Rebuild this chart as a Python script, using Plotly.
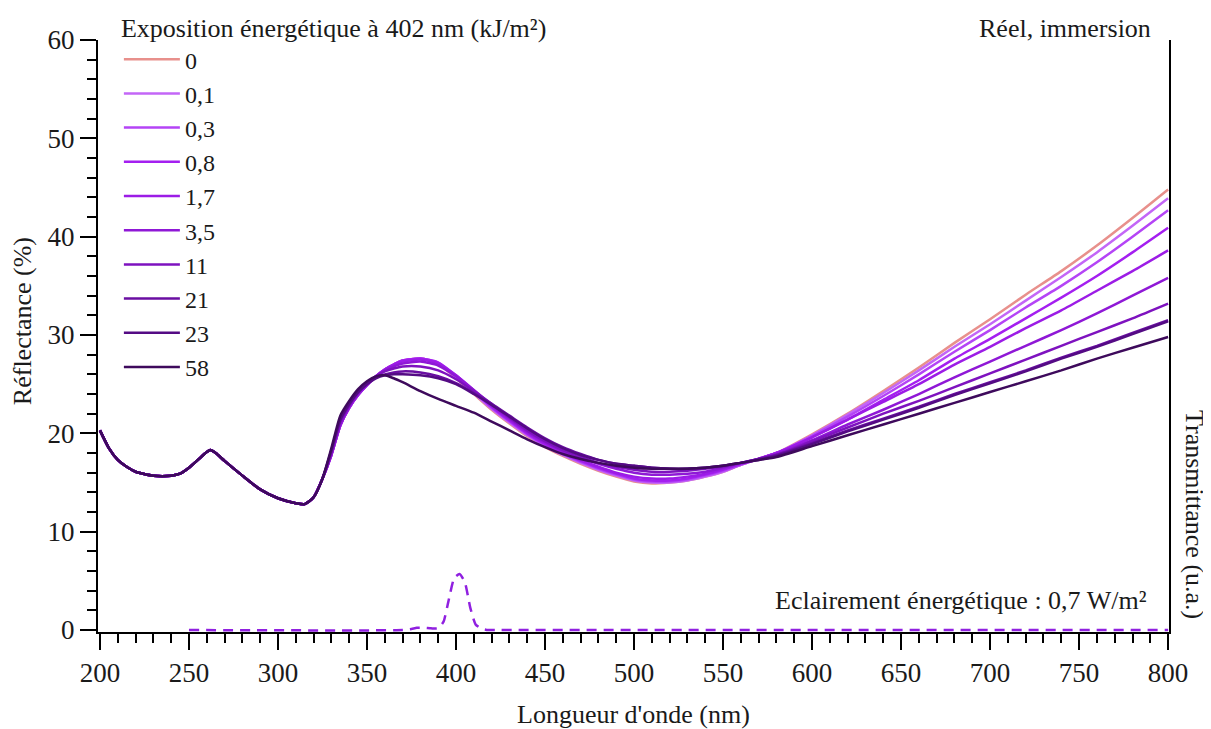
import plotly.graph_objects as go

# ---------------- data ----------------
# shared UV part (all exposures coincide)
wl_uv = [200, 205, 210, 215, 220, 230, 240, 245, 250, 255, 260, 262, 265, 270, 280, 290, 300, 310, 315, 320, 325]
refl_uv = [20.3, 18.5, 17.3, 16.6, 16.1, 15.7, 15.7, 15.9, 16.5, 17.3, 18.1, 18.3, 18.0, 17.2, 15.7, 14.3, 13.4, 12.9, 12.8, 13.5, 15.4]

wl_vis = [330, 335, 340, 345, 350, 355, 360, 365, 370, 380, 390, 400, 410, 420, 430, 440, 450, 460, 470, 480,
          490, 500, 510, 520, 530, 540, 550, 560, 570, 580, 600, 620, 640, 660, 680, 700, 720, 740, 760, 780, 800]

exposures = ["0", "0,1", "0,3", "0,8", "1,7", "3,5", "11", "21", "23", "58"]

refl_0 = [17.8, 20.8, 22.6, 23.9, 24.9, 25.8, 26.5, 27.0, 27.4, 27.6, 27.1, 25.6, 24.0, 22.4, 21.0, 19.7, 18.6, 17.7, 16.9, 16.2,
          15.6, 15.1, 14.9, 15.0, 15.2, 15.6, 16.1, 16.8, 17.4, 18.0, 19.9, 22.0, 24.3, 26.7, 29.2, 31.6, 34.1, 36.5, 39.1, 41.9, 44.8]
refl_01 = [17.8, 20.8, 22.6, 23.9, 24.9, 25.8, 26.5, 27.0, 27.4, 27.6, 27.1, 25.7, 24.1, 22.5, 21.1, 19.8, 18.7, 17.8, 17.0, 16.3,
           15.7, 15.2, 15.0, 15.0, 15.2, 15.6, 16.1, 16.8, 17.4, 18.0, 19.8, 21.9, 24.1, 26.4, 28.8, 31.1, 33.5, 35.9, 38.4, 41.1, 43.9]
refl_03 = [17.8, 20.8, 22.6, 23.9, 24.9, 25.8, 26.5, 27.0, 27.4, 27.6, 27.2, 25.8, 24.2, 22.6, 21.2, 19.9, 18.8, 17.9, 17.1, 16.4,
           15.8, 15.3, 15.1, 15.1, 15.3, 15.7, 16.2, 16.8, 17.4, 18.0, 19.75, 21.7, 23.8, 26.0, 28.3, 30.5, 32.8, 35.0, 37.4, 40.0, 42.7]
refl_08 = [17.8, 20.8, 22.6, 23.9, 24.9, 25.8, 26.5, 27.0, 27.4, 27.6, 27.2, 25.9, 24.3, 22.7, 21.3, 20.0, 18.9, 18.0, 17.2, 16.5,
           15.9, 15.4, 15.2, 15.2, 15.4, 15.8, 16.3, 16.9, 17.4, 18.0, 19.6, 21.4, 23.4, 25.4, 27.6, 29.6, 31.7, 33.8, 36.0, 38.4, 40.9]
refl_17 = [17.8, 20.8, 22.6, 23.9, 24.9, 25.8, 26.5, 27.0, 27.3, 27.5, 27.1, 25.9, 24.4, 22.8, 21.4, 20.1, 19.0, 18.1, 17.3, 16.6,
           16.0, 15.6, 15.4, 15.4, 15.6, 15.9, 16.4, 16.9, 17.4, 18.0, 19.6, 21.4, 23.2, 25.0, 27.0, 28.8, 30.7, 32.5, 34.5, 36.5, 38.6]
refl_35 = [17.9, 20.9, 22.7, 24.0, 25.0, 25.8, 26.4, 26.8, 27.1, 27.3, 26.9, 25.8, 24.4, 22.9, 21.5, 20.2, 19.1, 18.2, 17.5, 16.9,
           16.4, 16.0, 15.8, 15.8, 15.9, 16.1, 16.5, 17.0, 17.4, 17.9, 19.3, 20.9, 22.4, 24.0, 25.7, 27.3, 28.9, 30.5, 32.2, 34.0, 35.8]
refl_11 = [18.0, 21.1, 22.8, 24.1, 25.1, 25.8, 26.3, 26.6, 26.8, 26.8, 26.4, 25.5, 24.3, 23.0, 21.6, 20.3, 19.2, 18.3, 17.6, 17.0,
           16.6, 16.3, 16.1, 16.1, 16.2, 16.4, 16.6, 17.0, 17.4, 17.8, 19.2, 20.6, 22.0, 23.3, 24.7, 26.1, 27.5, 28.9, 30.3, 31.7, 33.2]
refl_21 = [18.2, 21.3, 22.9, 24.2, 25.1, 25.7, 26.0, 26.2, 26.3, 26.2, 25.8, 25.1, 24.1, 23.0, 21.8, 20.6, 19.5, 18.6, 17.9, 17.3,
           16.9, 16.7, 16.5, 16.4, 16.4, 16.5, 16.7, 17.0, 17.4, 17.8, 19.0, 20.3, 21.5, 22.7, 24.0, 25.2, 26.4, 27.7, 28.9, 30.2, 31.5]
refl_23 = [18.3, 21.4, 23.0, 24.2, 25.0, 25.6, 25.9, 26.0, 26.0, 25.9, 25.6, 25.0, 24.0, 22.9, 21.7, 20.5, 19.4, 18.5, 17.8, 17.3,
           16.9, 16.7, 16.5, 16.4, 16.4, 16.5, 16.7, 17.0, 17.3, 17.7, 18.9, 20.2, 21.4, 22.6, 23.9, 25.1, 26.3, 27.6, 28.8, 30.1, 31.4]
refl_58 = [18.5, 21.8, 23.3, 24.5, 25.3, 25.8, 25.9, 25.6, 25.2, 24.3, 23.5, 22.8, 22.1, 21.2, 20.3, 19.4, 18.6, 17.9, 17.4, 17.0,
           16.7, 16.5, 16.4, 16.4, 16.4, 16.5, 16.7, 17.0, 17.3, 17.6, 18.7, 19.8, 20.9, 22.0, 23.1, 24.2, 25.3, 26.4, 27.6, 28.7, 29.8]

series_vis = [refl_0, refl_01, refl_03, refl_08, refl_17, refl_35, refl_11, refl_21, refl_23, refl_58]
colors = ["#E8908C", "#C366F7", "#B444F6", "#A41FF0", "#9C1CE6", "#8F18D6", "#7E12BF", "#6A0EA2", "#540B84", "#3E0A5C"]

# source irradiance spectrum (arbitrary units)
src_wl = [250, 370, 375, 378, 382, 386, 390, 393, 396, 399, 402, 405, 408, 411, 414, 418, 425, 800]
src_val = [0, 0, 0.02, 0.04, 0.04, 0.03, 0.03, 0.15, 0.55, 0.93, 1.0, 0.85, 0.4, 0.1, 0.03, 0, 0, 0]

FONT = "Liberation Serif, DejaVu Serif, serif"
TXT = "#1a1a1a"
FS = 26      # titles / annotations
FS_TICK = 27
FS_LEG = 24

fig = go.Figure()
for name, vis, col in zip(exposures, series_vis, colors):
    fig.add_trace(go.Scatter(
        x=wl_uv + wl_vis, y=refl_uv + vis, mode="lines", name=name,
        line=dict(color=col, width=2.5, shape="spline", smoothing=0.6),
    ))

fig.add_trace(go.Scatter(
    x=src_wl, y=src_val, mode="lines", yaxis="y2", showlegend=False,
    line=dict(color="#9020E0", width=2.5, dash="10px,7px", shape="spline", smoothing=0.5),
))

# page body has an 8px margin: figure is 1203x721 so the plot sits where the reference has it
fig.update_layout(
    width=1203, height=721,
    margin=dict(l=90, r=42, t=32, b=97, autoexpand=False),
    paper_bgcolor="white", plot_bgcolor="white",
    font=dict(family=FONT, size=FS, color=TXT),
    showlegend=True,
    legend=dict(
        x=0.0195, y=1.062, xanchor="left", yanchor="top",
        title=dict(text="Exposition énergétique à 402 nm (kJ/m²)", font=dict(size=FS, family=FONT, color=TXT)),
        font=dict(size=FS_LEG, family=FONT, color=TXT), bgcolor="rgba(0,0,0,0)",
        itemwidth=56, maxheight=700,
    ),
    xaxis=dict(
        range=[198.9, 800.5], showgrid=False, zeroline=False,
        showline=True, linecolor="black", linewidth=2,
        ticks="outside", tickmode="linear", tick0=200, dtick=50, ticklen=16, tickwidth=2, tickcolor="black",
        tickfont=dict(size=FS_TICK, family=FONT, color=TXT),
        minor=dict(dtick=10, tick0=200, ticks="outside", ticklen=9, tickwidth=2, tickcolor="black"),
    ),
    yaxis=dict(
        range=[-0.2, 60], showgrid=False, zeroline=False,
        showline=True, linecolor="black", linewidth=2,
        ticks="outside", tickmode="linear", tick0=0, dtick=10, ticklen=16, tickwidth=2, tickcolor="black",
        tickfont=dict(size=FS_TICK, family=FONT, color=TXT),
        minor=dict(dtick=2, tick0=0, ticks="outside", ticklen=9, tickwidth=2, tickcolor="black"),
    ),
    yaxis2=dict(
        overlaying="y", side="right", range=[-0.2 / 5.7, 60 / 5.7],
        showgrid=False, zeroline=False, showline=True, linecolor="black", linewidth=2,
        showticklabels=False, ticks="",
    ),
    annotations=[
        dict(text="Longueur d'onde (nm)", xref="paper", yref="paper", x=0.5, y=-0.140,
             xanchor="center", yanchor="middle", showarrow=False, font=dict(size=FS, family=FONT, color=TXT)),
        dict(text="Réflectance (%)", xref="paper", yref="paper", x=-0.071, y=0.525,
             xanchor="center", yanchor="middle", textangle=-90, showarrow=False,
             font=dict(size=FS, family=FONT, color=TXT)),
        dict(text="Transmittance (u.a.)", xref="paper", yref="paper", x=1.024, y=0.198,
             xanchor="center", yanchor="middle", textangle=90, showarrow=False,
             font=dict(size=FS, family=FONT, color=TXT)),
        dict(text="Réel, immersion", xref="paper", yref="paper", x=0.985, y=1.02,
             xanchor="right", yanchor="middle", showarrow=False, font=dict(size=FS, family=FONT, color=TXT)),
        dict(text="Eclairement énergétique : 0,7 W/m²", xref="paper", yref="paper", x=0.981, y=0.053,
             xanchor="right", yanchor="middle", showarrow=False, font=dict(size=FS, family=FONT, color=TXT)),
    ],
)

fig.write_html("out.html")
